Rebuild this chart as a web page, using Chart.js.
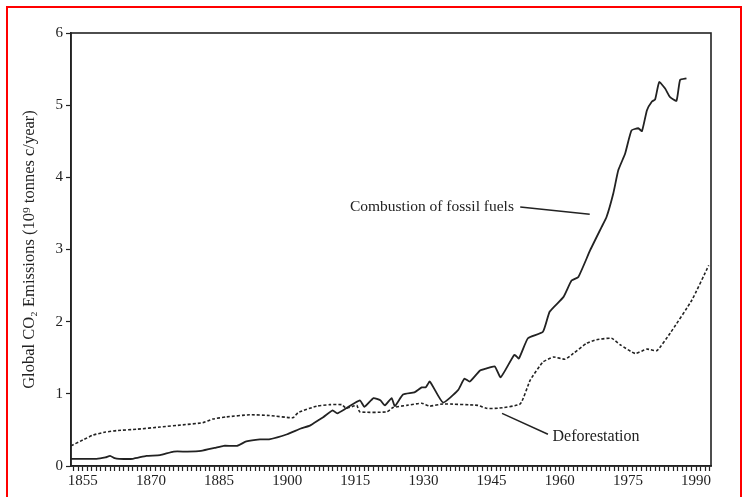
<!DOCTYPE html>
<html>
<head>
<meta charset="utf-8">
<script src="https://cdn.jsdelivr.net/npm/chart.js@4"></script>
<style>
  html, body { margin: 0; padding: 0; background: #fff; }
  #wrap { position: relative; width: 743px; height: 497px; overflow: hidden; }
  #frame { position: absolute; left: 6px; top: 6px; width: 736px; height: 520px; border: 2px solid #f00; box-sizing: border-box; }
  canvas { position: absolute; left: 0; top: 0; }
</style>
</head>
<body>
<div id="wrap">
  <canvas id="co2" width="743" height="497"></canvas>
  <div id="frame"></div>
</div>
<script>
// Valeurs
const fossilYears = [1852.4, 1858, 1860, 1861, 1862, 1863, 1866, 1869, 1872, 1875, 1878, 1881, 1884, 1886, 1889,
  1891, 1894, 1896, 1900, 1903, 1905, 1907, 1908, 1910, 1911, 1913, 1916, 1917, 1919, 1920.5, 1921.5, 1923,
  1923.7, 1925.5, 1928, 1929.6, 1930.5, 1931.4, 1934.3, 1937.6, 1939, 1940.2, 1942.4, 1943.8, 1945.7, 1947,
  1950, 1951, 1953, 1956.3, 1957.8, 1960.8, 1962.6, 1964.1, 1966.7, 1969.2, 1970.3, 1971.8, 1972.9, 1974.4,
  1975.8, 1977.3, 1978.1, 1979.2, 1980.3, 1981, 1981.9, 1983.2, 1984.3, 1985.7, 1986.5, 1987.9];
const fossilValues = [0.1, 0.1, 0.12, 0.14, 0.11, 0.1, 0.1, 0.14, 0.15, 0.2, 0.2, 0.21, 0.25, 0.28, 0.28,
  0.34, 0.37, 0.37, 0.44, 0.52, 0.56, 0.64, 0.68, 0.77, 0.73, 0.8, 0.91, 0.82, 0.94, 0.91, 0.84, 0.94,
  0.83, 0.99, 1.02, 1.09, 1.09, 1.17, 0.88, 1.05, 1.21, 1.17, 1.32, 1.35, 1.38, 1.23,
  1.54, 1.49, 1.77, 1.86, 2.14, 2.34, 2.57, 2.62, 2.99, 3.31, 3.45, 3.78, 4.1, 4.33,
  4.65, 4.68, 4.64, 4.93, 5.05, 5.08, 5.32, 5.23, 5.11, 5.06, 5.35, 5.37];

const deforYears = [1852.4, 1855, 1857.3, 1860, 1862.4, 1867, 1872, 1877, 1881.4, 1883.6, 1886.6, 1891.8, 1896,
  1901.3, 1902.4, 1906.5, 1909.4, 1912, 1913, 1915.3, 1916, 1921.9, 1923.3, 1926.3, 1929.6, 1931.4, 1934.3,
  1942, 1943.8, 1946.4, 1951.3, 1953.5, 1956.3, 1958.6, 1961.2, 1963, 1965.9, 1968.1, 1971.4, 1973.3, 1976.6,
  1979.2, 1981.4, 1984.3, 1989.1, 1992.8];
const deforValues = [0.28, 0.36, 0.43, 0.47, 0.49, 0.51, 0.54, 0.57, 0.6, 0.65, 0.68, 0.71, 0.7,
  0.67, 0.74, 0.83, 0.85, 0.85, 0.8, 0.84, 0.75, 0.75, 0.81, 0.84, 0.87, 0.83, 0.86,
  0.84, 0.8, 0.8, 0.86, 1.19, 1.44, 1.51, 1.48, 1.56, 1.7, 1.75, 1.77, 1.68, 1.56,
  1.62, 1.6, 1.84, 2.3, 2.78];

const xTickLabels = [1855, 1870, 1885, 1900, 1915, 1930, 1945, 1960, 1975, 1990];
const yTickLabels = [0, 1, 2, 3, 4, 5, 6];

const encre = '#222';
const police = 'Liberation Serif';

function points(xs, ys) {
  return xs.map((x, i) => ({ x: x, y: ys[i] }));
}

// Cadre + étiquettes annotées
const annotations = {
  id: 'annotations',
  afterDraw(chart) {
    const { ctx, chartArea, scales } = chart;
    const px = v => scales.x.getPixelForValue(v);
    const py = v => scales.y.getPixelForValue(v);
    ctx.save();
    ctx.strokeStyle = encre;
    ctx.lineWidth = 1.6;
    ctx.strokeRect(chartArea.left, chartArea.top, chartArea.right - chartArea.left, chartArea.bottom - chartArea.top);

    ctx.fillStyle = encre;
    ctx.textBaseline = 'middle';
    ctx.textAlign = 'left';
    ctx.font = '15.5px "' + police + '"';
    ctx.fillText('Combustion of fossil fuels', px(1913.8), py(3.59));
    ctx.font = '16px "' + police + '"';
    ctx.fillText('Deforestation', px(1958.4), py(0.40));

    ctx.lineWidth = 1.5;
    ctx.beginPath();
    ctx.moveTo(px(1951.3), py(3.59));
    ctx.lineTo(px(1966.6), py(3.49));
    ctx.moveTo(px(1947.3), py(0.73));
    ctx.lineTo(px(1957.4), py(0.44));
    ctx.stroke();
    ctx.restore();
  }
};

const canvas = document.getElementById('co2');
if (canvas) {
  new Chart(canvas.getContext('2d'), {
    type: 'line',
    data: {
      datasets: [
        {
          label: 'Combustion of fossil fuels',
          data: points(fossilYears, fossilValues),
          borderColor: encre,
          borderWidth: 1.8,
          pointRadius: 0,
          tension: 0.15,
          fill: false
        },
        {
          label: 'Deforestation',
          data: points(deforYears, deforValues),
          borderColor: encre,
          borderWidth: 1.6,
          borderDash: [3, 2],
          pointRadius: 0,
          tension: 0.15,
          fill: false
        }
      ]
    },
    options: {
      responsive: false,
      animation: false,
      layout: { padding: { top: 33, right: 32, left: 0, bottom: 0 } },
      plugins: {
        legend: { display: false },
        tooltip: { enabled: false }
      },
      scales: {
        x: {
          type: 'linear',
          min: 1852.4,
          max: 1993.3,
          afterBuildTicks(scale) {
            const t = [];
            for (let y = 1853; y <= 1993; y++) t.push({ value: y });
            scale.ticks = t;
          },
          afterFit(scale) { scale.height = 31; },
          grid: {
            drawOnChartArea: false,
            drawTicks: true,
            tickLength: 5,
            tickWidth: 1.2,
            color: encre
          },
          border: { color: encre, width: 1.6 },
          ticks: {
            autoSkip: false,
            maxRotation: 0,
            padding: 1,
            color: encre,
            font: { family: police, size: 15 },
            callback: v => xTickLabels.includes(v) ? String(v) : ''
          }
        },
        y: {
          min: 0,
          max: 6,
          afterBuildTicks(scale) {
            scale.ticks = yTickLabels.map(v => ({ value: v }));
          },
          afterFit(scale) { scale.width = 71; },
          grid: {
            drawOnChartArea: false,
            drawTicks: true,
            tickLength: 5,
            tickWidth: 1.2,
            color: encre
          },
          border: { color: encre, width: 1.6 },
          ticks: {
            padding: 3,
            color: encre,
            font: { family: police, size: 15 }
          },
          title: {
            display: true,
            text: 'Global CO\u2082 Emissions (10\u2079 tonnes c/year)',
            color: encre,
            padding: { top: 20, bottom: 0 },
            font: { family: police, size: 16.5 }
          }
        }
      }
    },
    plugins: [annotations]
  });
}
</script>
</body>
</html>
